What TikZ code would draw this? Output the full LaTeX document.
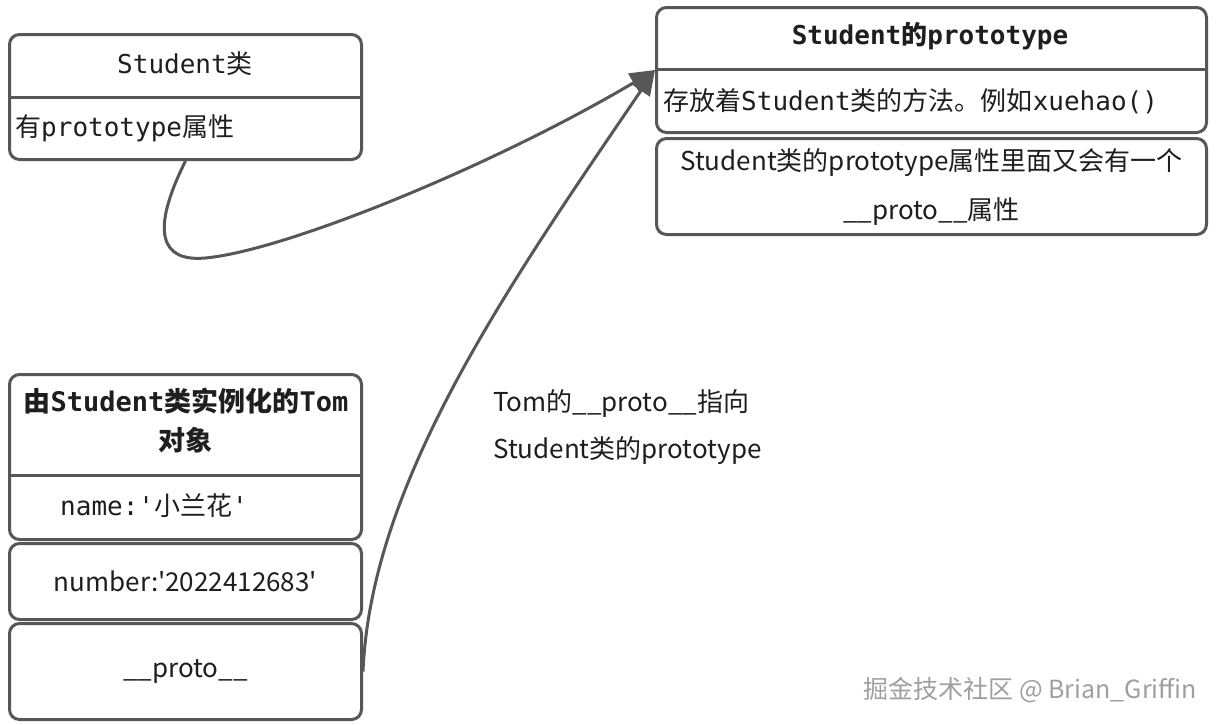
\documentclass[tikz,border=0pt]{standalone}
\usepackage{fontspec}
\setmainfont{Noto Sans CJK SC}
\newfontfamily\mono{DejaVu Sans Mono}
\usetikzlibrary{positioning, arrows.meta}
\definecolor{linea}{HTML}{575757}
\definecolor{tinta}{HTML}{1E1E1E}
\newcommand{\cod}[1]{{\mono #1}}
\newcommand{\comilla}{\textquotesingle}
\tikzset{caja/.style={draw=linea, line width=3pt, rounded corners=10pt, minimum width=352pt, inner sep=0pt, anchor=north west}}
\tikzset{sep/.style={draw=linea, line width=3pt}}
\tikzset{flecha/.style={draw=linea, line width=3pt, -{Triangle[length=25pt,width=21pt]}}}
\tikzset{texto/.style={font=\fontsize{26}{30}\selectfont}}

\begin{document}
\begin{tikzpicture}[
                x=1pt, y=-1pt,
                every node/.style={text=tinta, inner sep=0pt}
            ]
                \useasboundingbox (0,0) rectangle (1218,724);

                % clase Student
                \node[caja, minimum height=125pt] (stu) at (8,33) {};
                \draw[sep] ([yshift=-64pt]stu.north west) -- ([yshift=-64pt]stu.north east);
                \node[texto] (stuhead) at (185,64) {\cod{Student}类};
                \node[texto, anchor=west] (stubody) at (15,128) {有\cod{prototype}属性};

                % prototype de Student
                \node[caja, minimum width=550pt, minimum height=125pt] (proto) at (655,6) {};
                \draw[sep] ([yshift=-63pt]proto.north west) -- ([yshift=-63pt]proto.north east);
                \node[texto, font=\bfseries\fontsize{26}{30}\selectfont] (protohead) at (930,36) {\cod{Student}的\cod{prototype}};
                \node[texto, anchor=west] (protobody) at (663,101) {存放着\cod{Student}类的方法。例如\cod{xuehao()}};
                \node[caja, minimum width=550pt, minimum height=96pt] (nota) at (655,137) {};
                \node[texto, align=center, font=\fontsize{26}{49}\selectfont] (notatxt) at (nota.center) {Student类的prototype属性里面又会有一个\\\_\_proto\_\_属性};

                % objeto Tom
                \node[caja, minimum height=165pt] (tom) at (8,373) {};
                \draw[sep] ([yshift=-102pt]tom.north west) -- ([yshift=-102pt]tom.north east);
                \node[texto, align=center, font=\bfseries\fontsize{27}{39}\selectfont] (tomhead) at (186,421) {由\cod{Student}类实例化的\cod{Tom}\\对象};
                \node[texto, anchor=west] (tomname) at (60,506) {\cod{name:\comilla}小兰花\cod{\comilla}};
                \node[caja, minimum height=76pt] (num) at (8,542) {};
                \node[texto] (numtxt) at (num.center) {number:\comilla2022412683\comilla};
                \node[caja, minimum height=96pt] (tproto) at (8,622) {};
                \node[texto] (tprototxt) at (tproto.center) {\_\_proto\_\_};

                \node[texto, anchor=west, align=left, font=\fontsize{26}{47}\selectfont] (explica) at (493,427) {Tom的\_\_proto\_\_指向\\Student类的prototype};
                \node[anchor=east, text=gray!75, font=\fontsize{25}{28}\selectfont] (marca) at (1197,690) {掘金技术社区 @ Brian\_Griffin};

                % flechas
                \coordinate (vuelta) at (205,258);
                \draw[flecha] (stu.south) .. controls +(-35,70) and +(-45,4) .. (vuelta) .. controls +(80,-7) and +(-160,95) .. (proto.west);
                \draw[flecha] (tproto.east) .. controls +(8,-188) and +(-150,220) .. (proto.west);
            \end{tikzpicture}
\end{document}
